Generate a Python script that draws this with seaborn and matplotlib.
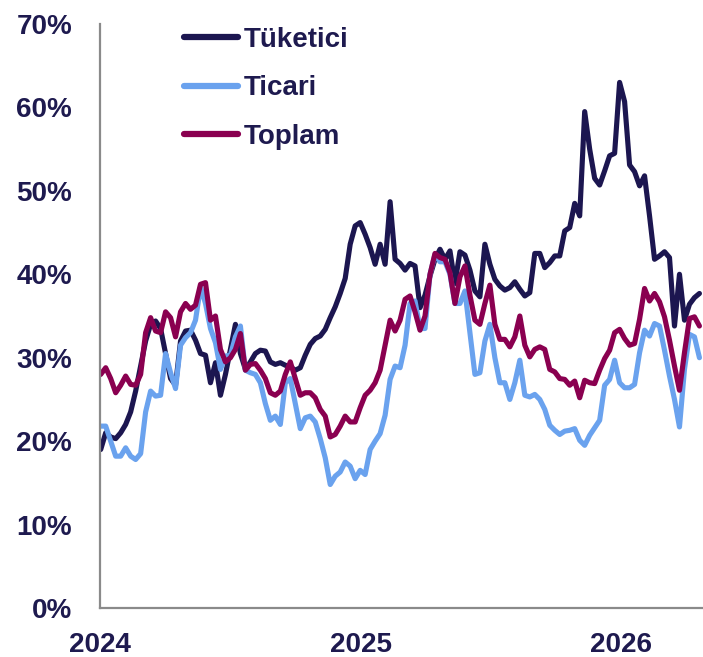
import matplotlib
matplotlib.use("Agg")
import matplotlib.pyplot as plt
import matplotlib.ticker as mticker
import seaborn as sns
import pandas as pd

# weekly values (%)
tuketici = [
    19.0, 21.0, 20.5, 20.3, 21.0, 22.0, 23.5, 26.0, 29.0, 32.0,
    34.0, 34.4, 33.5, 30.5, 27.5, 26.7, 32.0, 33.2, 33.3, 32.1,
    30.5, 30.3, 27.0, 29.4, 25.5, 28.0, 31.0, 34.0, 30.5, 28.6,
    29.5, 30.5, 30.9, 30.8, 29.5, 29.2, 29.4, 29.1, 28.9, 28.5,
    28.8, 30.3, 31.6, 32.3, 32.6, 33.4, 34.8, 36.1, 37.7, 39.5,
    43.6, 45.8, 46.2, 44.8, 43.2, 41.2, 43.6, 41.2, 48.7, 41.8,
    41.3, 40.5, 41.3, 41.0, 36.0, 37.5, 39.8, 41.8, 43.0, 41.8,
    42.8, 38.9, 42.7, 42.3, 40.5, 38.0, 37.3, 43.6, 41.2, 39.4,
    38.6, 38.1, 38.4, 39.1, 38.2, 37.4, 37.8, 42.5, 42.5, 40.8,
    41.4, 42.2, 42.2, 45.2, 45.6, 48.5, 47.0, 59.5, 55.0, 51.5,
    50.7, 52.4, 54.2, 54.5, 63.0, 60.7, 53.1, 52.3, 50.6, 51.8,
    47.0, 41.8, 42.2, 42.7, 42.0, 33.8, 40.0, 34.5, 36.4, 37.2,
    37.7,
]
ticari = [
    21.8, 21.8, 20.0, 18.2, 18.2, 19.2, 18.2, 17.8, 18.5, 23.5,
    26.0, 25.4, 25.5, 30.5, 28.2, 26.3, 31.5, 32.4, 33.0, 34.5,
    38.5, 36.5, 33.5, 31.8, 28.6, 30.2, 30.3, 32.5, 33.8, 28.5,
    28.2, 28.0, 27.0, 24.5, 22.5, 23.0, 22.0, 27.0, 27.5, 24.5,
    21.5, 22.8, 23.0, 22.3, 20.3, 18.0, 14.8, 15.8, 16.3, 17.5,
    17.0, 15.5, 16.5, 16.0, 19.0, 20.0, 20.9, 23.1, 27.4, 29.0,
    28.8, 31.5, 36.5, 36.8, 33.5, 33.5, 40.0, 42.4, 41.5, 41.5,
    40.0, 36.5, 36.5, 38.0, 33.0, 28.0, 28.2, 32.0, 34.0, 30.0,
    27.0, 27.0, 25.0, 27.0, 29.7, 25.5, 25.3, 25.6, 25.0, 23.8,
    21.9, 21.3, 20.8, 21.2, 21.3, 21.5, 20.1, 19.5, 20.7, 21.6,
    22.5, 26.7, 27.4, 29.7, 27.0, 26.4, 26.4, 26.8, 30.6, 33.3,
    32.6, 34.1, 33.8, 30.9, 27.8, 25.0, 21.7, 28.6, 32.8, 32.5,
    30.0,
]
toplam = [
    28.0, 28.8, 27.5, 25.8, 26.7, 27.8, 26.8, 26.7, 28.0, 33.0,
    34.8, 33.2, 33.0, 35.5, 34.8, 32.5, 35.5, 36.5, 35.8, 36.3,
    38.8, 39.0, 34.5, 35.0, 31.0, 29.5, 30.0, 31.0, 32.9, 28.5,
    29.2, 29.3, 28.5, 27.5, 25.8, 25.5, 26.0, 28.0, 29.5, 27.5,
    25.5, 25.8, 25.8, 25.2, 23.8, 23.0, 20.5, 20.8, 21.8, 23.0,
    22.3, 22.3, 24.0, 25.5, 26.1, 27.0, 28.5, 31.5, 34.5, 33.2,
    34.5, 37.0, 37.4, 35.5, 33.3, 35.0, 40.0, 42.5, 42.0, 41.8,
    40.2, 36.5, 39.7, 41.0, 37.5, 34.5, 34.0, 36.5, 38.7, 34.0,
    32.2, 32.2, 31.3, 32.5, 35.0, 31.5, 30.1, 31.0, 31.3, 31.0,
    28.6, 28.3, 27.5, 27.4, 26.7, 27.2, 25.2, 27.3, 27.0, 26.9,
    28.5, 29.9, 30.9, 33.0, 33.4, 32.3, 31.5, 31.7, 34.6, 38.3,
    36.8, 37.7, 36.7, 34.9, 32.1, 29.0, 26.1, 30.6, 34.7, 34.9,
    33.8,
]
seriler = ["Tüketici", "Ticari", "Toplam"]
renkler = ["#1c1650", "#6aa2ee", "#8a0050"]
yil_etiketleri = ["2024", "2025", "2026"]

tarih = pd.date_range("2024-01-02", periods=len(tuketici), freq="7D")
df = pd.concat([
    pd.DataFrame({"Tarih": tarih, "Oran": vals, "Seri": ad})
    for ad, vals in zip(seriler, [tuketici, ticari, toplam])
])

sns.set_style("white")
plt.rcParams["font.family"] = ["Liberation Sans", "DejaVu Sans"]
yazi = "#1e1a4f"

fig = plt.figure(figsize=(7.03, 6.57), dpi=100)
ax = fig.add_axes([100 / 703, 1 - 608 / 657, 603 / 703, 584 / 657])

sns.lineplot(data=df, x="Tarih", y="Oran", hue="Seri", hue_order=seriler,
             palette=renkler, linewidth=3.7, ax=ax)

ax.set_ylim(0, 70)
ax.set_xlim(pd.Timestamp("2024-01-01"), pd.Timestamp("2026-04-26"))
ax.yaxis.set_major_locator(mticker.MultipleLocator(10))
ax.yaxis.set_major_formatter(mticker.FuncFormatter(lambda v, p: f"{v:.0f}%"))
ax.set_xticks([pd.Timestamp(f"{y}-01-01") for y in yil_etiketleri])
ax.set_xticklabels(yil_etiketleri)
ax.set_xlabel("")
ax.set_ylabel("")

for s in ["top", "right"]:
    ax.spines[s].set_visible(False)
for s in ["left", "bottom"]:
    ax.spines[s].set_color("#8a8a8a")
    ax.spines[s].set_linewidth(1.6)
ax.tick_params(axis="both", colors="#8a8a8a", width=1.6, length=7,
               direction="out", labelsize=20, labelcolor=yazi)
ax.tick_params(axis="y", pad=13)
ax.tick_params(axis="x", pad=10)
for lab in ax.get_xticklabels() + ax.get_yticklabels():
    lab.set_fontweight("bold")

leg = ax.legend(loc="upper left", bbox_to_anchor=(173 / 703, 1 - 16 / 657),
                bbox_transform=fig.transFigure, frameon=False,
                prop={"size": 20, "weight": "bold"}, handlelength=1.95,
                handletextpad=0.2, labelspacing=0.8, borderaxespad=0)
for t in leg.get_texts():
    t.set_color(yazi)
for l in leg.get_lines():
    l.set_linewidth(4.5)
    l.set_solid_capstyle("round")

fig.savefig("out.png", dpi=100)
